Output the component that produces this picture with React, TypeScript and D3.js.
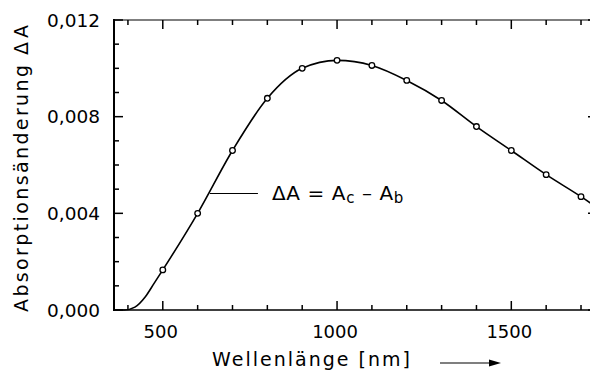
import React from "react";
import * as d3 from "d3";

// measured points (circles)
const wavelengths = [500, 600, 700, 800, 900, 1000, 1100, 1200, 1300, 1400, 1500, 1600, 1700];
const deltaA = [0.00166, 0.0040, 0.0066, 0.00876, 0.0100, 0.01033, 0.01012, 0.0095, 0.00867, 0.00759, 0.0066, 0.0056, 0.00469];
// curve extension below first and beyond last measured point
const headNm = [360, 390, 420, 450, 475];
const headVal = [0.0, 0.0, 0.00012, 0.00055, 0.0011];
const tailNm = [1750];
const tailVal = [0.0042];

const xMajor = [500, 1000, 1500];
const xMinor = [400, 600, 700, 800, 900, 1100, 1200, 1300, 1400, 1600, 1700];
const yMajor = [0, 0.004, 0.008, 0.012];
const yMinor = [0.001, 0.002, 0.003, 0.005, 0.006, 0.007, 0.009, 0.01, 0.011];
const yLabels = ["0,000", "0,004", "0,008", "0,012"];

const W = 590;
const H = 376;
const left = 114;
const top = 20;
const bottom = 310;
const right = 596;

export default function App() {
  const x = d3.scaleLinear().domain([360, 1743]).range([left, right]);
  const y = d3.scaleLinear().domain([0, 0.012]).range([bottom, top]);

  const pts: [number, number][] = [
    ...headNm.map((n, i) => [n, headVal[i]] as [number, number]),
    ...wavelengths.map((n, i) => [n, deltaA[i]] as [number, number]),
    ...tailNm.map((n, i) => [n, tailVal[i]] as [number, number]),
  ];
  const line = d3
    .line<[number, number]>()
    .x((d) => x(d[0]))
    .y((d) => y(d[1]))
    .curve(d3.curveMonotoneX);

  const font = "'DejaVu Sans', sans-serif";
  const annY = y(0.00482);

  return (
    <svg
      width={W}
      height={H}
      style={{ position: "absolute", left: 0, top: 0, background: "#fff" }}
      fontFamily={font}
    >
      <rect x={0} y={0} width={W} height={H} fill="#fff" />
      {/* frame */}
      <line x1={left} x2={left} y1={top - 1} y2={bottom + 1} stroke="#000" strokeWidth={2} />
      <line x1={left} x2={right} y1={bottom} y2={bottom} stroke="#000" strokeWidth={1.6} />
      <line x1={left} x2={right} y1={top} y2={top} stroke="#000" strokeWidth={1.2} />
      <line x1={right} x2={right} y1={top} y2={bottom} stroke="#000" strokeWidth={1.4} />
      {/* x ticks */}
      {xMajor.map((v) => (
        <g key={"xM" + v}>
          <line x1={x(v)} x2={x(v)} y1={bottom} y2={bottom - 9} stroke="#000" strokeWidth={1.5} />
          <line x1={x(v)} x2={x(v)} y1={top} y2={top + 9} stroke="#000" strokeWidth={1.5} />
        </g>
      ))}
      {xMinor.map((v) => (
        <g key={"xm" + v}>
          <line x1={x(v)} x2={x(v)} y1={bottom} y2={bottom - 5} stroke="#000" strokeWidth={1.5} />
          <line x1={x(v)} x2={x(v)} y1={top} y2={top + 5} stroke="#000" strokeWidth={1.5} />
        </g>
      ))}
      {/* y ticks */}
      {yMajor.map((v) => (
        <g key={"yM" + v}>
          <line x1={left} x2={left + 9} y1={y(v)} y2={y(v)} stroke="#000" strokeWidth={1.5} />
          <line x1={right} x2={right - 8} y1={y(v)} y2={y(v)} stroke="#000" strokeWidth={1.5} />
        </g>
      ))}
      {yMinor.map((v) => (
        <g key={"ym" + v}>
          <line x1={left} x2={left + 5} y1={y(v)} y2={y(v)} stroke="#000" strokeWidth={1.5} />
          <line x1={right} x2={right - 5} y1={y(v)} y2={y(v)} stroke="#000" strokeWidth={1.5} />
        </g>
      ))}
      {/* y tick labels */}
      {yMajor.map((v, i) => (
        <text
          key={"yl" + v}
          x={100}
          y={y(v) + 6.5}
          fontSize={18}
          textAnchor="end"
          textLength={53}
          lengthAdjust="spacingAndGlyphs"
        >
          {yLabels[i]}
        </text>
      ))}
      {/* x tick labels */}
      {xMajor.map((v) => (
        <text key={"xl" + v} x={x(v) - 2} y={338} fontSize={18} textAnchor="middle">
          {String(v)}
        </text>
      ))}
      {/* curve */}
      <path d={line(pts) || ""} fill="none" stroke="#000" strokeWidth={1.6} />
      {wavelengths.map((n, i) => (
        <circle key={"c" + n} cx={x(n)} cy={y(deltaA[i])} r={2.8} fill="#fff" stroke="#000" strokeWidth={1.3} />
      ))}
      {/* annotation */}
      <line x1={x(635)} x2={x(773)} y1={annY} y2={annY} stroke="#000" strokeWidth={1.2} />
      <text x={272} y={200} fontSize={20} letterSpacing={0.6}>
        <tspan>ΔA = A</tspan>
        <tspan fontSize={15} dy={3}>c</tspan>
        <tspan dy={-3}> – A</tspan>
        <tspan fontSize={15} dy={3}>b</tspan>
      </text>
      {/* axis titles */}
      <text x={212} y={366} fontSize={19} textLength={198} lengthAdjust="spacing">
        Wellenlänge [nm]
      </text>
      <line x1={440} x2={492} y1={363} y2={363} stroke="#000" strokeWidth={1.2} />
      <path d="M489,359.5 L501,363 L489,366.5 Z" fill="#000" />
      <g transform="translate(28,0) rotate(-90)">
        <text x={-312} y={0} fontSize={19} textLength={247} lengthAdjust="spacing">
          Absorptionsänderung
        </text>
        <text x={-55} y={0} fontSize={19} textLength={30} lengthAdjust="spacing">
          ΔA
        </text>
      </g>
    </svg>
  );
}
